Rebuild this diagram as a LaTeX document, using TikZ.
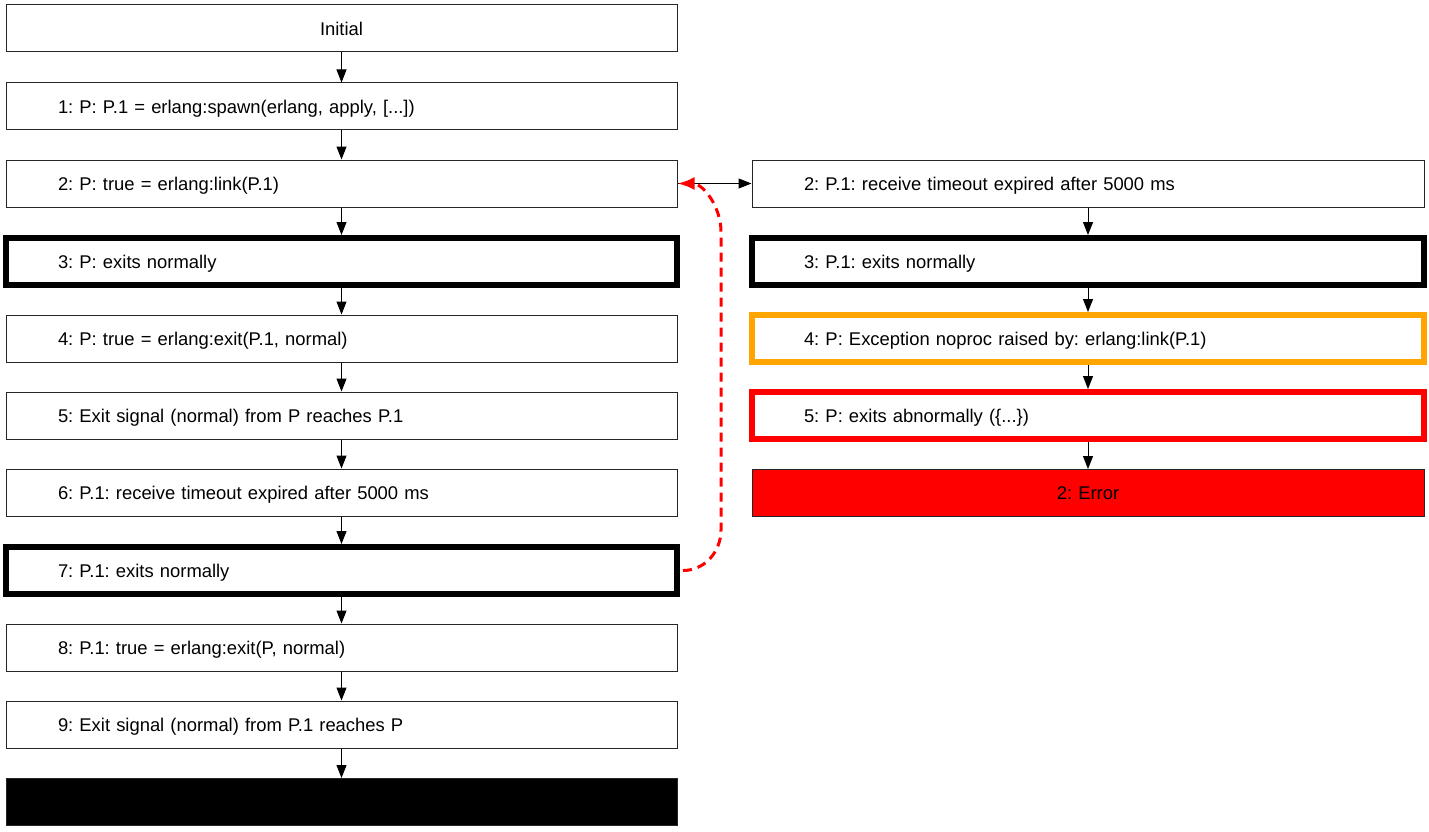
\documentclass[tikz,border=0pt]{standalone}
\usepackage{fontspec}
\setmainfont{Liberation Sans}
\usetikzlibrary{arrows.meta}
\frenchspacing
\begin{document}
\begin{tikzpicture}[x=1pt,y=-1pt,
  every node/.style={font=\fontsize{18.4}{22}\selectfont},
  stepbox/.style={draw=black!85, line width=1pt, rectangle, minimum height=47pt,
    text width=567pt, inner xsep=52pt, inner ysep=0pt, align=left,
    text height=17pt, text depth=3.6pt},
  rstepbox/.style={stepbox, text width=568pt},
  centred/.style={align=center},
  heavy/.style={draw=black, line width=6pt},
  warnbox/.style={draw={rgb,255:red,255;green,165;blue,0}, line width=6pt},
  failbox/.style={draw={rgb,255:red,255;green,0;blue,0}, line width=6pt},
  flow/.style={draw=black, line width=1pt, -{Triangle[length=13pt,width=10pt]}},
  backlink/.style={draw={rgb,255:red,255;green,0;blue,0}, line width=3pt,
    dash pattern=on 9pt off 6pt, -{Latex[length=17pt,width=13pt]}}
]
\useasboundingbox (0,0) rectangle (1429,832);

% left column: main trace
\node[stepbox, centred] (l0) at (341.5,28.5)  {Initial};
\node[stepbox] (l1)  at (341.5,106.5) {1: P: P.1 = erlang:spawn(erlang, apply, [...])};
\node[stepbox] (l2)  at (341.5,183.5) {2: P: true = erlang:link(P.1)};
\node[stepbox, heavy] (l3)  at (341.5,261.5) {3: P: exits normally};
\node[stepbox] (l4)  at (341.5,338.5) {4: P: true = erlang:exit(P.1, normal)};
\node[stepbox] (l5)  at (341.5,415.5) {5: Exit signal (normal) from P reaches P.1};
\node[stepbox] (l6)  at (341.5,492.5) {6: P.1: receive timeout expired after 5000 ms};
\node[stepbox, heavy] (l7)  at (341.5,570.5) {7: P.1: exits normally};
\node[stepbox] (l8)  at (341.5,647.5) {8: P.1: true = erlang:exit(P, normal)};
\node[stepbox] (l9)  at (341.5,724.5) {9: Exit signal (normal) from P.1 reaches P};
\node[stepbox, fill=black] (l10) at (341.5,802) {};

% right column: alternative branch
\node[rstepbox] (r2) at (1088,183.5) {2: P.1: receive timeout expired after 5000 ms};
\node[rstepbox, heavy] (r3) at (1088,261.5) {3: P.1: exits normally};
\node[rstepbox, warnbox] (r4) at (1088,338.5) {4: P: Exception noproc raised by: erlang:link(P.1)};
\node[rstepbox, failbox] (r5) at (1088,415.5) {5: P: exits abnormally (\{...\})};
\node[rstepbox, centred, fill={rgb,255:red,255;green,0;blue,0}] (r6) at (1088,493) {2: Error};

% sequential steps
\foreach \a/\b in {l0/l1,l1/l2,l2/l3,l3/l4,l4/l5,l5/l6,l6/l7,l7/l8,l8/l9,l9/l10,
                   r2/r3,r3/r4,r4/r5,r5/r6}
  \path[flow] (\a) -- (\b);

% branch point
\path[flow] (l2.east) -- (r2.west);

% race back-edge
\coordinate (bendlow)  at (721,530);
\coordinate (bendhigh) at (721,232);
\path[backlink] ([xshift=3pt]l7.east) to[out=0,in=-90] (bendlow) -- (bendhigh)
  to[out=90,in=0] (l2.east);
\end{tikzpicture}
\end{document}
